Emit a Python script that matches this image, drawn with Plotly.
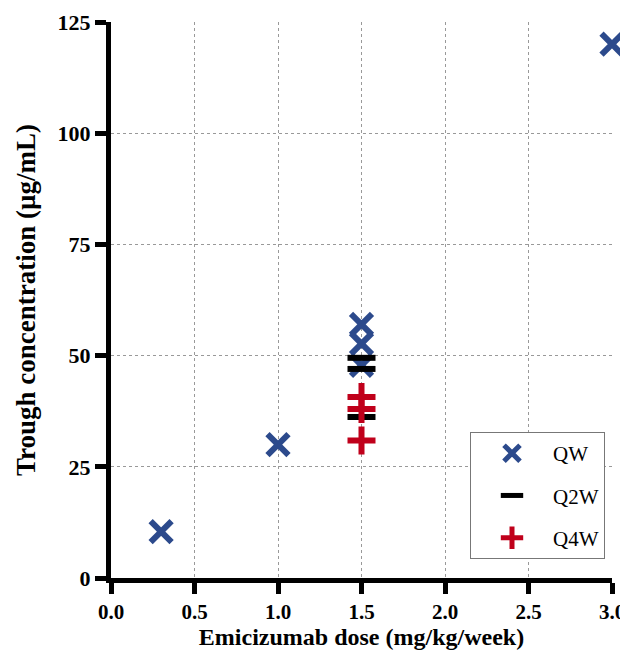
import plotly.graph_objects as go

qw_x = [0.3, 1.0, 1.5, 1.5, 1.5, 3.0]
qw_y = [10.4, 30.0, 57.0, 52.7, 47.8, 120.0]
q2w_x = [1.5, 1.5, 1.5]
q2w_y = [49.5, 47.0, 36.2]
q4w_x = [1.5, 1.5, 1.5]
q4w_y = [40.7, 38.0, 30.9]

x_ticks = [0.0, 0.5, 1.0, 1.5, 2.0, 2.5, 3.0]
x_labels = ["0.0", "0.5", "1.0", "1.5", "2.0", "2.5", "3.0"]
y_ticks = [0, 25, 50, 75, 100, 125]

FONT = "Liberation Serif"
BLUE = "#2c4a8c"
RED = "#c0001b"

fig = go.Figure()
fig.add_trace(go.Scatter(x=qw_x, y=qw_y, mode="markers", name="QW", cliponaxis=False,
                         legendgroup="g1",
                         marker=dict(symbol="x-thin", size=21, color=BLUE,
                                     line=dict(width=6, color=BLUE))))
fig.add_trace(go.Scatter(x=q2w_x, y=q2w_y, mode="markers", name="Q2W", cliponaxis=False,
                         legendgroup="g2",
                         marker=dict(symbol="line-ew", size=20, color="black",
                                     line=dict(width=6, color="black"))))
fig.add_trace(go.Scatter(x=q4w_x, y=q4w_y, mode="markers", name="Q4W", cliponaxis=False,
                         legendgroup="g3",
                         marker=dict(symbol="cross-thin", size=20, color=RED,
                                     line=dict(width=6, color=RED))))

# page body has an 8px default margin, so the figure is 8px smaller and offsets are shifted
fig.update_layout(
    width=620, height=645,
    margin=dict(l=103, r=16, t=14, b=75),
    plot_bgcolor="white", paper_bgcolor="white",
    font=dict(family=FONT, color="black"),
    legend=dict(x=(470 - 111) / 501, y=(578 - 432) / 556, xanchor="left", yanchor="top",
                bordercolor="#777", borderwidth=1, bgcolor="white",
                font=dict(size=21, family=FONT), tracegroupgap=12,
                itemsizing="trace", itemwidth=72),
    showlegend=True,
)
fig.update_xaxes(range=[0, 3], tickvals=x_ticks, ticktext=x_labels, automargin=False,
                 ticklabeloverflow="allow",
                 showline=True, linewidth=5, linecolor="black",
                 ticks="outside", ticklen=11, tickwidth=5, tickcolor="black",
                 showgrid=True, gridcolor="#999", griddash="dot", gridwidth=1,
                 zeroline=False,
                 tickfont=dict(size=21, family=FONT, weight="bold"),
                 title=dict(text="<b>Emicizumab dose (mg/kg/week)</b>",
                            font=dict(size=24, family=FONT), standoff=6))
fig.update_yaxes(range=[0, 125], tickvals=y_ticks, automargin=False,
                 showline=True, linewidth=5, linecolor="black",
                 ticks="outside", ticklen=11, tickwidth=5, tickcolor="black",
                 showgrid=True, gridcolor="#999", griddash="dot", gridwidth=1,
                 zeroline=False,
                 tickfont=dict(size=22, family=FONT, weight="bold"),
                 title=dict(text="<b>Trough concentration (µg/mL)</b>",
                            font=dict(size=27, family=FONT), standoff=16))

fig.write_html("out.html")
